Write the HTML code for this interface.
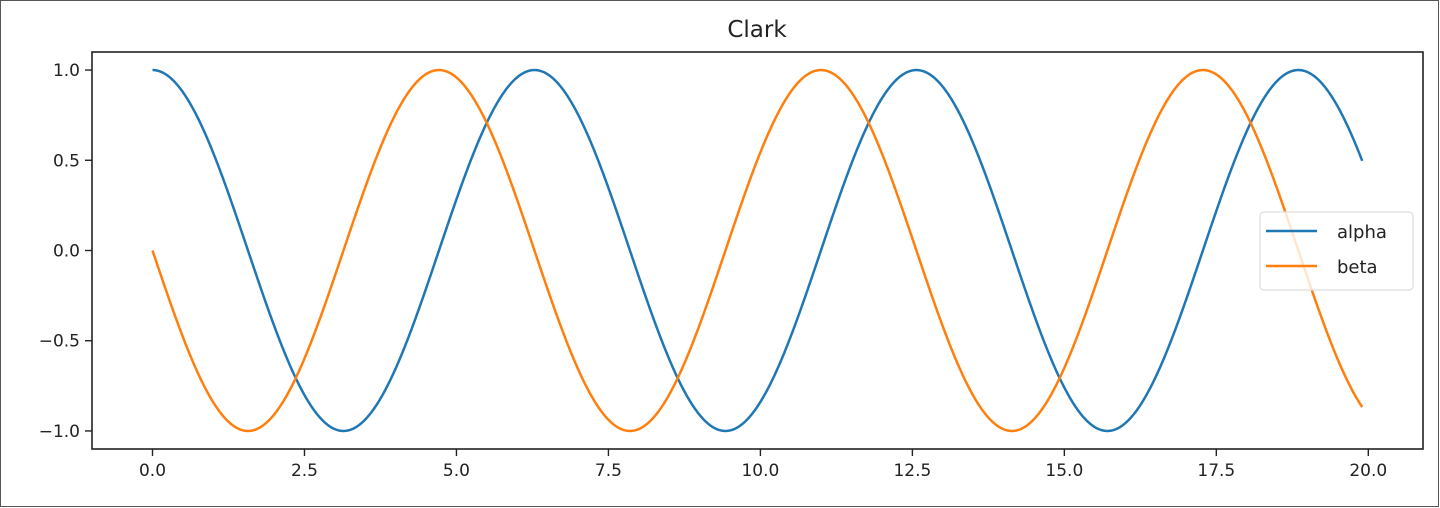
<!DOCTYPE html>
<html><head><meta charset="utf-8"><style>
html,body{margin:0;padding:0;background:#fff;}
svg{display:block;font-family:"DejaVu Sans","Liberation Sans",sans-serif;}
</style></head><body>
<svg width="1440" height="508" viewBox="0 0 1440 508" xmlns="http://www.w3.org/2000/svg">
<rect x="0" y="0" width="1440" height="508" fill="#fff"/>
<rect x="0.5" y="0.5" width="1438" height="506" fill="none" stroke="#555" stroke-width="1"/>
<text x="757" y="37" font-size="23" text-anchor="middle" fill="#222">Clark</text>
<g id="curves"></g>
<rect x="92" y="52" width="1331" height="397" fill="none" stroke="#222" stroke-width="1.6"/>
<g id="ticks" font-size="17" fill="#222"></g>
<rect x="1260" y="212" width="153" height="78" rx="4" fill="#fff" fill-opacity="0.8" stroke="#ddd" stroke-width="1.2"/>
<line x1="1266" y1="231" x2="1317" y2="231" stroke="#1f77b4" stroke-width="2.5"/>
<line x1="1266" y1="266" x2="1317" y2="266" stroke="#ff7f0e" stroke-width="2.5"/>
<text x="1337" y="238" font-size="18" fill="#222">alpha</text>
<text x="1337" y="273" font-size="18" fill="#222">beta</text>
</svg>
<script>
var NS="http://www.w3.org/2000/svg";
function X(v){return 152.5+v*60.79;}
function Y(v){return 250.5-v*180.45;}
var a="",b="";
for(var i=0;i<=1990;i++){var x=i/100;a+=(i?"L":"M")+X(x).toFixed(2)+","+Y(Math.cos(x)).toFixed(2);b+=(i?"L":"M")+X(x).toFixed(2)+","+Y(-Math.sin(x)).toFixed(2);}
var g=document.getElementById("curves");
[[a,"#1f77b4"],[b,"#ff7f0e"]].forEach(function(p){var e=document.createElementNS(NS,"path");e.setAttribute("d",p[0]);e.setAttribute("fill","none");e.setAttribute("stroke",p[1]);e.setAttribute("stroke-width","2.5");g.appendChild(e);});
var t=document.getElementById("ticks");
function add(tag,attrs,txt){var e=document.createElementNS(NS,tag);for(var k in attrs)e.setAttribute(k,attrs[k]);if(txt)e.textContent=txt;t.appendChild(e);}
for(var v=0;v<=20;v+=2.5){var px=X(v);add("line",{x1:px,y1:449,x2:px,y2:456,stroke:"#222","stroke-width":1.4});add("text",{x:px,y:476,"text-anchor":"middle"},v.toFixed(1));}
[1,0.5,0,-0.5,-1].forEach(function(v){var py=Y(v);add("line",{x1:85,y1:py,x2:92,y2:py,stroke:"#222","stroke-width":1.4});add("text",{x:80,y:py+6,"text-anchor":"end"},(v<0?"\u2212":"")+Math.abs(v).toFixed(1));});
</script>
</body></html>
